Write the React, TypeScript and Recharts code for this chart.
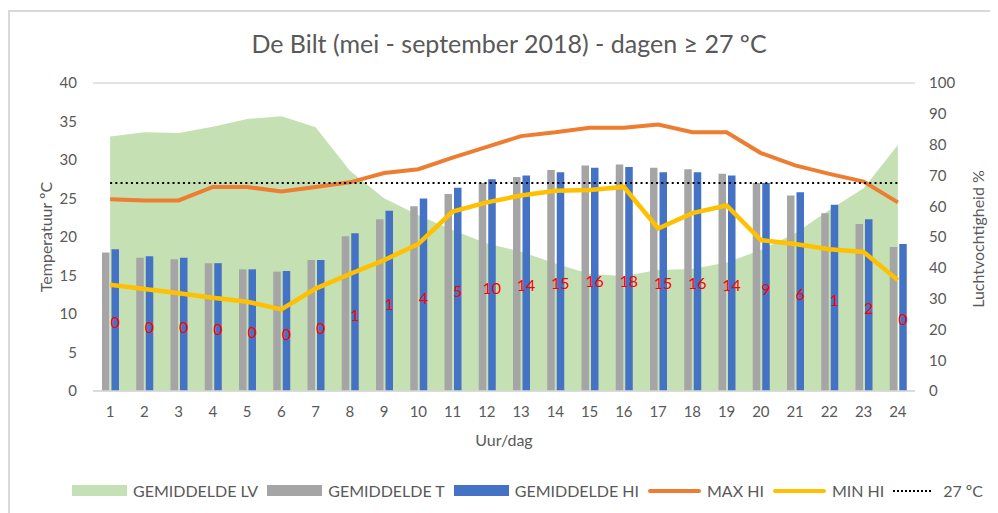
import {
  ComposedChart,
  Bar,
  Line,
  Area,
  XAxis,
  YAxis,
  CartesianGrid,
  LabelList,
  Label,
} from 'recharts';

// #region Sample data
const hours = ['1', '2', '3', '4', '5', '6', '7', '8', '9', '10', '11', '12', '13', '14', '15', '16', '17', '18', '19', '20', '21', '22', '23', '24'];
const humidity = [82.6, 84.0, 83.8, 85.8, 88.3, 89.2, 85.6, 71.5, 62.6, 57.1, 52.3, 47.9, 45.2, 41.4, 38.0, 37.3, 39.3, 39.6, 41.7, 45.8, 51.2, 58.8, 65.8, 79.9];
const avgTemp = [18.0, 17.3, 17.1, 16.6, 15.8, 15.5, 17.0, 20.1, 22.3, 24.0, 25.6, 27.0, 27.8, 28.7, 29.3, 29.4, 29.0, 28.8, 28.2, 27.0, 25.4, 23.1, 21.7, 18.7];
const avgHeat = [18.4, 17.5, 17.3, 16.6, 15.8, 15.6, 17.0, 20.5, 23.4, 25.0, 26.4, 27.5, 28.0, 28.4, 29.0, 29.1, 28.4, 28.4, 28.0, 27.0, 25.8, 24.2, 22.3, 19.1];
const maxHeat = [24.9, 24.75, 24.75, 26.5, 26.5, 25.9, 26.5, 27.1, 28.3, 28.8, 30.3, 31.7, 33.1, 33.6, 34.2, 34.2, 34.6, 33.6, 33.6, 30.9, 29.3, 28.2, 27.2, 24.5];
const minHeat = [13.8, 13.25, 12.7, 12.1, 11.6, 10.6, 13.3, 15.2, 17.0, 19.1, 23.3, 24.5, 25.4, 26.0, 26.1, 26.5, 21.1, 23.1, 24.1, 19.6, 19.1, 18.4, 18.05, 14.4];
const threshold = [27, 27, 27, 27, 27, 27, 27, 27, 27, 27, 27, 27, 27, 27, 27, 27, 27, 27, 27, 27, 27, 27, 27, 27];
const hotDays = [0, 0, 0, 0, 0, 0, 0, 1, 1, 4, 5, 10, 14, 15, 16, 18, 15, 16, 14, 9, 6, 1, 2, 0];
// anchor of the red day-count labels (invisible series, °C)
const dayLabelAnchor = [9.0, 8.44, 8.44, 8.1, 7.7, 7.5, 8.3, 10.0, 11.4, 12.2, 13.0, 13.5, 13.8, 14.1, 14.3, 14.3, 14.1, 14.1, 13.8, 13.3, 12.7, 11.9, 10.9, 9.4];
// #endregion

const data = hours.map((h, i) => ({
  hour: h,
  lv: humidity[i],
  t: avgTemp[i],
  hi: avgHeat[i],
  maxHi: maxHeat[i],
  minHi: minHeat[i],
  limit: threshold[i],
  days: hotDays[i],
  anchor: dayLabelAnchor[i],
}));

const FONT = 'Lato, "Open Sans", sans-serif';
const GREY_TEXT = '#595959';

const legendItems = [
  { label: 'GEMIDDELDE LV', kind: 'box', color: '#C5E0B4' },
  { label: 'GEMIDDELDE T', kind: 'box', color: '#A5A5A5' },
  { label: 'GEMIDDELDE HI', kind: 'box', color: '#4472C4' },
  { label: 'MAX HI', kind: 'line', color: '#ED7D31' },
  { label: 'MIN HI', kind: 'line', color: '#FFC000' },
  { label: '27 ºC', kind: 'dots', color: '#000000' },
];

const ChartLegend = () => (
  <div
    style={{
      position: 'absolute',
      top: 473,
      left: 64,
      display: 'flex',
      alignItems: 'center',
      gap: 9,
      fontFamily: FONT,
      fontSize: 16,
      color: GREY_TEXT,
      whiteSpace: 'nowrap',
    }}
  >
    {legendItems.map((it) => (
      <div key={it.label} style={{ display: 'flex', alignItems: 'center', gap: 6 }}>
        {it.kind === 'box' && <div style={{ width: 55, height: 11, background: it.color }} />}
        {it.kind === 'line' && <div style={{ width: 53, height: 4, borderRadius: 2, background: it.color }} />}
        {it.kind === 'dots' && <div style={{ width: 38, height: 0, borderTop: '2px dotted #000', marginRight: 6 }} />}
        <span>{it.label}</span>
      </div>
    ))}
  </div>
);

const DayLabel = (props: any) => {
  const { x, y, value } = props;
  return (
    <text x={x + 5} y={y} fill="#FF0000" fontSize={16} fontFamily={FONT} textAnchor="middle" dominantBaseline="central">
      {value}
    </text>
  );
};

const AxisTitle = ({ cx, cy, text }: { cx: number; cy: number; text: string }) => (
  <text
    x={cx}
    y={cy}
    transform={`rotate(-90, ${cx}, ${cy})`}
    textAnchor="middle"
    dominantBaseline="central"
    fill={GREY_TEXT}
    fontSize={16}
    fontFamily={FONT}
  >
    {text}
  </text>
);

const App = () => {
  return (
    <div style={{ position: 'relative', width: 990, height: 505, overflow: 'hidden' }}>
      <div
        style={{
          position: 'absolute',
          left: 0,
          top: 2,
          width: 1010,
          height: 520,
          border: '2px solid #D9D9D9',
          boxSizing: 'border-box',
        }}
      />
      <div
        style={{
          position: 'absolute',
          top: 20,
          left: 0,
          width: 1002,
          textAlign: 'center',
          fontFamily: FONT,
          fontSize: 25,
          color: GREY_TEXT,
        }}
      >
        De Bilt (mei - september 2018) - dagen ≥ 27 ºC
      </div>
      <ComposedChart
        width={990}
        height={505}
        data={data}
        margin={{ top: 75, right: 33, left: 35, bottom: 92 }}
        barGap={2}
        style={{ position: 'absolute', left: 0, top: 0 }}
      >
        <CartesianGrid vertical={false} stroke="#D9D9D9" strokeWidth={1.5} />
        <XAxis
          dataKey="hour"
          tickLine={false}
          tickSize={0}
          tickMargin={15}
          stroke="#D9D9D9"
          strokeWidth={1.5}
          tick={{ fill: GREY_TEXT, fontSize: 15, fontFamily: FONT }}
          height={30}
        >
          <Label value="Uur/dag" position="insideBottom" offset={-25} fill={GREY_TEXT} fontSize={16} fontFamily={FONT} />
        </XAxis>
        <YAxis
          yAxisId="t"
          domain={[0, 40]}
          ticks={[0, 5, 10, 15, 20, 25, 30, 35, 40]}
          axisLine={false}
          tickLine={false}
          tickSize={0}
          tickMargin={16}
          width={50}
          tick={{ fill: GREY_TEXT, fontSize: 15, fontFamily: FONT }}
        >
          <Label content={() => <AxisTitle cx={37} cy={229} text="Temperatuur ºC" />} />
        </YAxis>
        <YAxis
          yAxisId="lv"
          orientation="right"
          domain={[0, 100]}
          ticks={[0, 10, 20, 30, 40, 50, 60, 70, 80, 90, 100]}
          axisLine={false}
          tickLine={false}
          tickSize={0}
          tickMargin={14}
          width={50}
          tick={{ fill: GREY_TEXT, fontSize: 15, fontFamily: FONT, textAnchor: 'start' }}
        >
          <Label content={() => <AxisTitle cx={969} cy={231} text="Luchtvochtigheid %" />} />
        </YAxis>
        <Area
          yAxisId="lv"
          type="linear"
          dataKey="lv"
          name="GEMIDDELDE LV"
          fill="#A9D18E"
          fillOpacity={0.67}
          stroke="none"
          isAnimationActive={false}
        />
        <Bar yAxisId="t" dataKey="t" name="GEMIDDELDE T" fill="#A5A5A5" barSize={7.5} isAnimationActive={false} />
        <Bar yAxisId="t" dataKey="hi" name="GEMIDDELDE HI" fill="#4472C4" barSize={7.5} isAnimationActive={false} />
        <Line yAxisId="t" type="linear" dataKey="maxHi" name="MAX HI" stroke="#ED7D31" strokeWidth={4} dot={false} isAnimationActive={false} />
        <Line yAxisId="t" type="linear" dataKey="minHi" name="MIN HI" stroke="#FFC000" strokeWidth={4.5} dot={false} isAnimationActive={false} />
        <Line
          yAxisId="t"
          type="linear"
          dataKey="limit"
          name="27 ºC"
          stroke="#000000"
          strokeWidth={2}
          strokeDasharray="2 3.2"
          dot={false}
          isAnimationActive={false}
        />
        <Line yAxisId="t" type="linear" dataKey="anchor" stroke="none" dot={false} legendType="none" isAnimationActive={false}>
          <LabelList dataKey="days" content={DayLabel} />
        </Line>
      </ComposedChart>
      <ChartLegend />
    </div>
  );
};

export default App;
